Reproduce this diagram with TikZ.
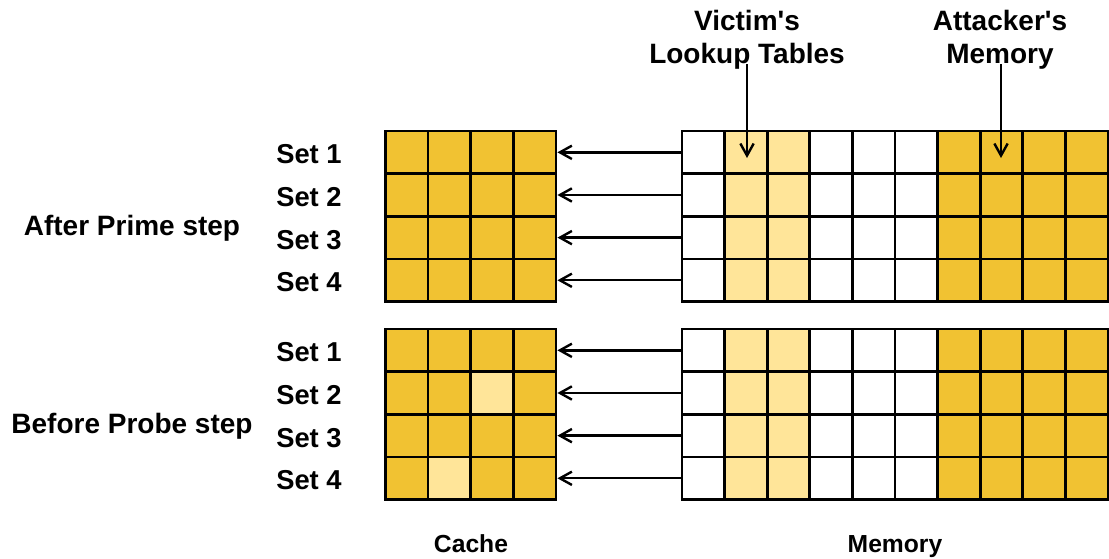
\documentclass[tikz,border=0pt]{standalone}
\usepackage{fontspec}
\newfontfamily\lsans{Liberation Sans}
\usetikzlibrary{arrows.meta}
\definecolor{darkY}{HTML}{F1C232}
\definecolor{lightY}{HTML}{FFE599}
\tikzset{
  cell/.style={draw=black, line width=2pt, minimum width=31.99pt, minimum height=31.99pt, inner sep=0pt},
  lbl/.style={font=\lsans\bfseries\fontsize{21}{25}\selectfont, inner sep=0pt},
  setlbl/.style={font=\lsans\bfseries\fontsize{20.5}{25}\selectfont, inner sep=0pt},
  smalllbl/.style={font=\lsans\bfseries\fontsize{18.5}{22}\selectfont, inner sep=0pt},
  arr/.style={line width=1.8pt, -{Straight Barb[length=9pt,width=10pt,line width=1.8pt]}}
}
\begin{document}
\begin{tikzpicture}[x=0.75pt,y=-0.75pt]
\useasboundingbox (0,0) rectangle (1109,558);
% top cache
\foreach \r in {1,...,4}
  \foreach \c in {1,...,4}
    \node[cell, fill=darkY] (ct-\r-\c) at ({385.5+42.65*(\c-0.5)},{131+42.65*(\r-0.5)}) {};
% bottom cache
\foreach \r/\lst in {1/{darkY,darkY,darkY,darkY},2/{darkY,darkY,lightY,darkY},3/{darkY,darkY,darkY,darkY},4/{darkY,lightY,darkY,darkY}}
  \foreach \col [count=\c] in \lst
    \node[cell, fill=\col] (cb-\r-\c) at ({385.5+42.65*(\c-0.5)},{329+42.65*(\r-0.5)}) {};
% memories
\foreach \r in {1,...,4}
  \foreach \c/\col in {1/white,2/lightY,3/lightY,4/white,5/white,6/white,7/darkY,8/darkY,9/darkY,10/darkY}
  {
    \node[cell, fill=\col] (mt-\r-\c) at ({682+42.6*(\c-0.5)},{131+42.65*(\r-0.5)}) {};
    \node[cell, fill=\col] (mb-\r-\c) at ({682+42.6*(\c-0.5)},{329+42.65*(\r-0.5)}) {};
  }
% arrows memory -> cache
\foreach \r in {1,...,4}
{
  \draw[arr] (mt-\r-1.west) -- (ct-\r-4.east);
  \draw[arr] (mb-\r-1.west) -- (cb-\r-4.east);
}
% set labels
\foreach \r in {1,...,4}
{
  \node[setlbl, anchor=base west] (st-\r) at (276,{131+42.65*(\r-0.5)+11.5}) {Set \r};
  \node[setlbl, anchor=base west] (sb-\r) at (276,{329+42.65*(\r-0.5)+11.5}) {Set \r};
}
% step labels
\node[lbl, anchor=base] (prime) at (132,235) {After Prime step};
\node[lbl, anchor=base] (probe) at (132,433) {Before Probe step};
% top labels
\node[lbl, anchor=base] (vic1) at (747,30) {Victim's};
\node[lbl, anchor=base] (vic2) at (747,63) {Lookup Tables};
\node[lbl, anchor=base] (att1) at (1000,30) {Attacker's};
\node[lbl, anchor=base] (att2) at (1000,63) {Memory};
\coordinate (vs) at (747,64);
\coordinate (ve) at (747,158);
\coordinate (as) at (1001,64);
\coordinate (ae) at (1001,158);
\draw[arr] (vs) -- (ve);
\draw[arr] (as) -- (ae);
% bottom labels
\node[smalllbl, anchor=base] (cachelbl) at (471,552) {Cache};
\node[smalllbl, anchor=base] (memlbl) at (895,552) {Memory};
\end{tikzpicture}
\end{document}
